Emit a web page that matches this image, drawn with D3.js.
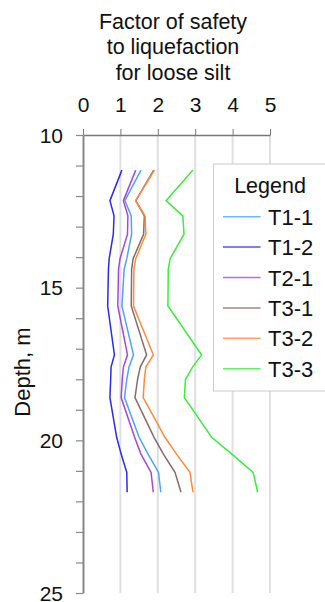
<!DOCTYPE html>
<html>
<head>
<meta charset="utf-8">
<script src="https://cdn.jsdelivr.net/npm/d3@7"></script>
<style>
  body { margin: 0; background: #fff; }
  svg { display: block; font-family: "Liberation Sans", Arial, sans-serif; }
</style>
</head>
<body>
<svg width="325" height="602"></svg>
<script>
const depth = [11.15, 12.15, 12.65, 13.25, 14.05, 14.4, 15.6, 17.2, 17.6, 18.0, 18.6, 19.9, 20.45, 21.05, 21.7];

const t11 = [1.55, 1.12, 1.29, 1.30, 1.17, 1.10, 1.04, 1.35, 1.23, 1.17, 1.11, 1.50, 1.74, 2.02, 2.08];
const t12 = [1.04, 0.72, 0.83, 0.81, 0.70, 0.68, 0.66, 0.84, 0.75, 0.74, 0.72, 0.90, 1.02, 1.17, 1.18];
const t21 = [1.41, 1.08, 1.20, 1.19, 0.99, 0.95, 0.93, 1.19, 1.08, 1.05, 1.02, 1.38, 1.55, 1.82, 1.88];
const t31 = [1.89, 1.41, 1.64, 1.62, 1.34, 1.30, 1.29, 1.70, 1.53, 1.46, 1.39, 1.90, 2.15, 2.46, 2.62];
const t32 = [1.91, 1.41, 1.66, 1.68, 1.41, 1.36, 1.35, 1.88, 1.68, 1.64, 1.61, 2.19, 2.50, 2.86, 2.94];
const t33 = [2.94, 2.22, 2.67, 2.70, 2.33, 2.28, 2.27, 3.17, 2.93, 2.74, 2.71, 3.44, 3.98, 4.55, 4.67];

const names = ["T1-1", "T1-2", "T2-1", "T3-1", "T3-2", "T3-3"];
const colors = ["#4da3ff", "#2b2bea", "#a846dc", "#876a66", "#ff8a3c", "#3aee3a"];
const xTicks = [0, 1, 2, 3, 4, 5];
const yTicks = [10, 15, 20, 25];

const series = [t11, t12, t21, t31, t32, t33].map((v, i) => ({
  name: names[i],
  color: colors[i],
  pts: v.map((f, j) => ({ fs: f, d: depth[j] }))
}));

const svg = d3.select("svg");

const x = d3.scaleLinear().domain([0, 5]).range([83, 270]);
const y = d3.scaleLinear().domain([10, 25]).range([135, 593]);

// grid
svg.append("g")
  .selectAll("line")
  .data(xTicks.slice(1))
  .enter()
  .append("line")
  .attr("x1", d => x(d))
  .attr("x2", d => x(d))
  .attr("y1", y(10))
  .attr("y2", y(25))
  .attr("stroke", "#e0e0e0")
  .attr("stroke-width", 2);

// top axis
const topAxis = svg.append("g")
  .attr("transform", `translate(0, ${y(10)})`)
  .call(d3.axisTop(x).tickValues(xTicks).tickSize(6).tickSizeOuter(0).tickFormat(d3.format("d")));
topAxis.select(".domain").attr("stroke", "#777").attr("stroke-width", 1.5);
topAxis.selectAll(".tick line").attr("stroke", "#777");
topAxis.selectAll(".tick text")
  .attr("y", -23.5)
  .attr("font-size", 21)
  .attr("fill", "#111");

// left axis
const leftAxis = svg.append("g")
  .attr("transform", `translate(${x(0)}, 0)`)
  .call(d3.axisLeft(y).tickValues(d3.range(10, 26)).tickSize(7).tickSizeOuter(0)
    .tickFormat(d => yTicks.includes(d) ? d : ""));
leftAxis.select(".domain").attr("stroke", "#888").attr("stroke-width", 2);
leftAxis.selectAll(".tick line").attr("stroke", "#888").attr("stroke-width", 1.2);
leftAxis.selectAll(".tick text")
  .attr("x", -20)
  .attr("dy", "0.34em")
  .attr("font-size", 21)
  .attr("fill", "#111");

// series lines
const line = d3.line()
  .x(p => x(p.fs))
  .y(p => y(p.d));

svg.append("g")
  .selectAll("path")
  .data(series)
  .enter()
  .append("path")
  .attr("d", s => line(s.pts))
  .attr("fill", "none")
  .attr("stroke", s => s.color)
  .attr("stroke-width", 1.5);

// title
svg.append("text")
  .attr("text-anchor", "middle")
  .attr("font-size", 21.5)
  .attr("fill", "#111")
  .selectAll("tspan")
  .data(["Factor of safety", "to liquefaction", "for loose silt"])
  .enter()
  .append("tspan")
  .attr("x", 173)
  .attr("y", (d, i) => 28.5 + i * 25.8)
  .text(d => d);

svg.append("text")
  .attr("transform", "rotate(-90)")
  .attr("x", -372)
  .attr("y", 30)
  .attr("text-anchor", "middle")
  .attr("font-size", 22)
  .attr("fill", "#111")
  .text("Depth, m");

// legend
const lg = svg.append("g");
lg.append("rect")
  .attr("x", 213.5)
  .attr("y", 164)
  .attr("width", 130)
  .attr("height", 227)
  .attr("fill", "#fff")
  .attr("stroke", "#ccc");
lg.append("text")
  .attr("x", 270)
  .attr("y", 193)
  .attr("text-anchor", "middle")
  .attr("font-size", 21.5)
  .attr("fill", "#111")
  .text("Legend");
const item = lg.selectAll(".item")
  .data(series)
  .enter()
  .append("g")
  .attr("class", "item")
  .attr("transform", (s, i) => `translate(0, ${216.7 + i * 30.4})`);
item.append("line")
  .attr("x1", 223)
  .attr("x2", 260.5)
  .attr("stroke", s => s.color)
  .attr("stroke-width", 1.5)
  .attr("stroke-opacity", 0.8);
item.append("text")
  .attr("x", 268)
  .attr("y", 8)
  .attr("font-size", 22)
  .attr("fill", "#111")
  .text(s => s.name);
</script>
</body>
</html>
